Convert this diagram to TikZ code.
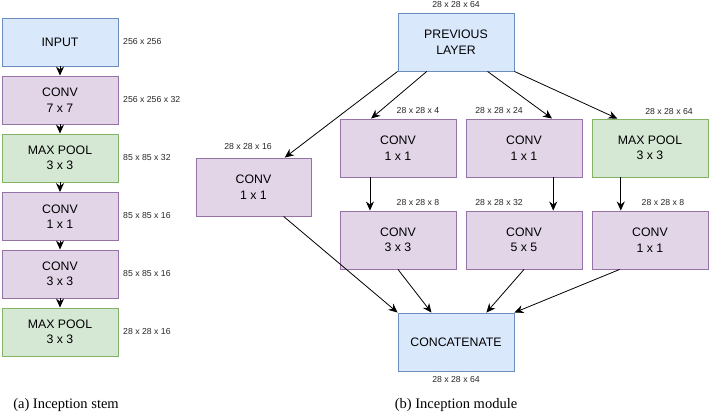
\documentclass[tikz,border=0pt]{standalone}
\usepackage{fontspec}
\setmainfont{Liberation Serif}
\newfontfamily\boxfont{Liberation Sans}
\usetikzlibrary{calc,arrows.meta}
\definecolor{bluefill}{HTML}{DAE8FC}
\definecolor{blueline}{HTML}{6C8EBF}
\definecolor{purfill}{HTML}{E1D5E7}
\definecolor{purline}{HTML}{9673A6}
\definecolor{grnfill}{HTML}{D5E8D4}
\definecolor{grnline}{HTML}{82B366}
\tikzset{
  layer/.style={rectangle, draw, line width=0.9pt, minimum width=116pt, minimum height=48pt,
    inner sep=0pt, align=center, font=\boxfont\fontsize{12.3}{15.5}\selectfont},
  tall/.style={layer, minimum height=58pt},
  bluebox/.style={fill=bluefill, draw=blueline},
  purbox/.style={fill=purfill, draw=purline},
  grnbox/.style={fill=grnfill, draw=grnline},
  dimlabel/.style={font=\boxfont\fontsize{8.7}{10}\selectfont, text=black!85, inner sep=0pt},
  caption/.style={font=\fontsize{14.5}{17}\selectfont, inner sep=0pt},
  conn/.style={-{Stealth[length=9pt,width=8pt]}, line width=0.8pt, black},
}
\begin{document}
\begin{tikzpicture}[x=1pt,y=-1pt]
\useasboundingbox (0,0) rectangle (710,415);
% ---------- (a) stem ----------
\node[layer,bluebox] (in) at (60,42) {INPUT};
\node[layer,purbox] (c7) at (60,100) {CONV\\7 x 7};
\node[layer,grnbox] (mp1) at (60,158) {MAX POOL\\3 x 3};
\node[layer,purbox] (c1) at (60,216.5) {CONV\\1 x 1};
\node[layer,purbox] (c3) at (60,274) {CONV\\3 x 3};
\node[layer,grnbox] (mp2) at (60,332) {MAX POOL\\3 x 3};
\foreach \a/\b in {in/c7,c7/mp1,mp1/c1,c1/c3,c3/mp2}
  \draw[conn] (\a.south) -- (\b.north);
\node[dimlabel,anchor=west] (l1) at (123,42) {256 x 256};
\node[dimlabel,anchor=west] (l2) at (123,100) {256 x 256 x 32};
\node[dimlabel,anchor=west] (l3) at (123,157.5) {85 x 85 x 32};
\node[dimlabel,anchor=west] (l4) at (123,216) {85 x 85 x 16};
\node[dimlabel,anchor=west] (l5) at (123,273.5) {85 x 85 x 16};
\node[dimlabel,anchor=west] (l6) at (123,332) {28 x 28 x 16};
\node[caption] (capa) at (66,405) {(a) Inception stem};
% ---------- (b) module ----------
\node[tall,bluebox] (prev) at (456,42) {PREVIOUS\\LAYER};
\node[tall,purbox,minimum width=115pt] (lc) at (253.5,187) {CONV\\1 x 1};
\node[tall,purbox] (a1) at (398,148) {CONV\\1 x 1};
\node[tall,purbox] (b1) at (524,148) {CONV\\1 x 1};
\node[tall,grnbox] (m1) at (650,148) {MAX POOL\\3 x 3};
\node[tall,purbox] (a2) at (398,240) {CONV\\3 x 3};
\node[tall,purbox] (b2) at (524,240) {CONV\\5 x 5};
\node[tall,purbox] (m2) at (650,240) {CONV\\1 x 1};
\node[tall,bluebox] (cat) at (456,342) {CONCATENATE};

\node[dimlabel] (t0) at (456,5) {28 x 28 x 64};
\node[dimlabel] (t1) at (248,147) {28 x 28 x 16};
\node[dimlabel] (t2) at (418,111) {28 x 28 x 4};
\node[dimlabel] (t3) at (499,111) {28 x 28 x 24};
\node[dimlabel] (t4) at (669,112) {28 x 28 x 64};
\node[dimlabel] (t5) at (418,203) {28 x 28 x 8};
\node[dimlabel] (t6) at (499,203) {28 x 28 x 32};
\node[dimlabel] (t7) at (663,203) {28 x 28 x 8};
\node[dimlabel] (t8) at (456,380) {28 x 28 x 64};
\node[caption] (capb) at (456,405) {(b) Inception module};

% connectors from previous layer
\draw[conn] (prev.south west) -- ($(lc.north west)!0.77!(lc.north east)$);
\draw[conn] ($(prev.south west)!0.25!(prev.south east)$) -- ($(a1.north west)!0.27!(a1.north east)$);
\draw[conn] ($(prev.south west)!0.77!(prev.south east)$) -- ($(b1.north west)!0.74!(b1.north east)$);
\draw[conn] (prev.south east) -- ($(m1.north west)!0.22!(m1.north east)$);
% verticals
\draw[conn] ($(a1.south west)!0.26!(a1.south east)$) -- ($(a2.north west)!0.26!(a2.north east)$);
\draw[conn] ($(b1.south west)!0.75!(b1.south east)$) -- ($(b2.north west)!0.75!(b2.north east)$);
\draw[conn] ($(m1.south west)!0.25!(m1.south east)$) -- ($(m2.north west)!0.25!(m2.north east)$);
% into concatenate
\draw[conn] ($(lc.south west)!0.76!(lc.south east)$) -- (cat.north west);
\draw[conn] (a2.south) -- ($(cat.north west)!0.29!(cat.north east)$);
\draw[conn] (b2.south) -- ($(cat.north west)!0.76!(cat.north east)$);
\draw[conn] ($(m2.south west)!0.24!(m2.south east)$) -- (cat.north east);
\end{tikzpicture}
\end{document}
